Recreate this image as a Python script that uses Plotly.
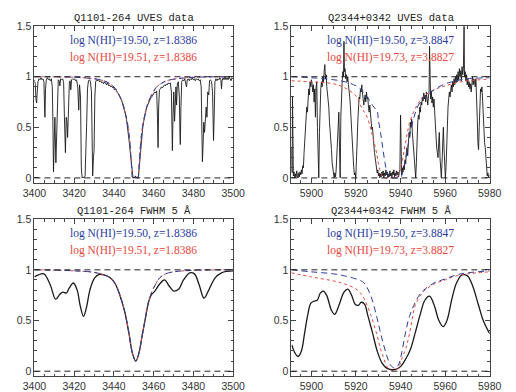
import plotly.graph_objects as go

# ---------------- data ----------------
# Panel A: Q1101-264 UVES data (wavelength, normalised flux)
a_wav = [3400.0,3400.4,3400.8,3401.1,3401.4,3401.8,3402.3,3402.8,3403.3,3403.8,3404.3,3404.8,3405.1,3405.3,3405.6,3406.0,3406.5,3407.0,3407.5,3408.0,
         3408.5,3409.0,3409.3,3409.6,3409.9,3410.3,3410.8,3411.2,3411.5,3412.0,3412.5,3412.8,3413.2,3413.7,3414.2,3414.7,3415.1,3415.6,3416.0,3416.4,
         3416.7,3417.1,3417.6,3418.0,3418.3,3418.7,3419.2,3419.7,3420.2,3420.7,3421.2,3421.8,3422.3,3422.7,3423.2,3423.6,3424.0,3424.5,3425.0,3425.5,
         3425.9,3426.3,3426.7,3427.2,3427.7,3428.2,3428.7,3429.0,3429.3,3429.7,3430.0,3430.4,3430.8,3431.3,3431.8,3432.3,3432.8,3433.3,3433.8,3434.3,
         3434.8,3435.3,3435.8,3436.3,3436.8,3437.3,3437.8,3438.3,3438.8,3439.3,3439.8,3440.3,3440.8,3441.3,3441.8,3442.3,3442.8,3443.3,3443.8,3444.3,
         3444.8,3445.3,3445.8,3446.3,3446.8,3447.3,3447.8,3448.3,3448.8,3449.2,3449.6,3450.0,3450.4,3450.8,3451.2,3451.6,3452.0,3452.4,3452.8,3453.2,
         3453.6,3454.0,3454.5,3455.0,3455.5,3456.0,3456.5,3457.0,3457.5,3458.0,3458.5,3459.0,3459.5,3460.0,3460.5,3461.0,3461.5,3461.9,3462.2,3462.5,
         3462.9,3463.4,3463.9,3464.4,3464.9,3465.4,3465.9,3466.4,3466.9,3467.4,3467.9,3468.4,3468.9,3469.2,3469.4,3469.7,3470.1,3470.5,3470.9,3471.2,
         3471.5,3471.9,3472.4,3472.9,3473.2,3473.4,3473.7,3474.1,3474.6,3475.1,3475.6,3476.1,3476.5,3476.9,3477.4,3477.9,3478.4,3478.9,3479.4,3479.9,
         3480.4,3480.9,3481.4,3481.9,3482.4,3482.9,3483.4,3483.9,3484.2,3484.5,3484.8,3485.2,3485.6,3486.0,3486.4,3486.8,3487.2,3487.7,3488.1,3488.6,
         3489.1,3489.6,3489.9,3490.1,3490.4,3490.8,3491.3,3491.8,3492.3,3492.8,3493.3,3493.8,3494.1,3494.4,3494.9,3495.4,3495.9,3496.4,3496.9,3497.4,
         3497.9,3498.4,3498.9,3499.4,3499.9]
a_flux = [0.97,0.93,0.78,0.74,0.84,0.95,0.98,0.97,0.99,0.97,0.98,0.95,0.70,0.60,0.88,0.97,0.99,0.97,0.98,0.96,
          0.98,0.90,0.55,0.06,0.30,0.60,0.15,0.45,0.85,0.97,0.96,0.91,0.98,0.97,0.98,0.94,0.60,0.25,0.60,0.55,
          0.40,0.75,0.95,0.96,0.87,0.97,0.98,0.97,0.98,0.96,0.97,0.90,0.67,0.92,0.80,0.10,0.00,0.01,0.00,0.02,
          0.23,0.55,0.88,0.96,0.97,0.95,0.85,0.30,0.02,0.20,0.27,0.80,0.95,0.97,0.96,0.97,0.95,0.96,0.94,0.95,
          0.93,0.95,0.93,0.92,0.94,0.91,0.92,0.90,0.91,0.89,0.90,0.87,0.88,0.85,0.84,0.83,0.80,0.79,0.77,0.74,
          0.71,0.68,0.63,0.58,0.51,0.44,0.34,0.24,0.12,0.03,0.00,0.01,0.00,0.02,0.00,0.01,0.00,0.03,0.12,0.24,
          0.34,0.42,0.50,0.56,0.62,0.65,0.70,0.72,0.75,0.77,0.79,0.80,0.82,0.83,0.85,0.84,0.86,0.60,0.30,0.70,
          0.87,0.88,0.90,0.89,0.91,0.92,0.91,0.93,0.92,0.94,0.93,0.94,0.85,0.50,0.27,0.60,0.85,0.56,0.80,0.90,
          0.72,0.93,0.95,0.80,0.45,0.33,0.70,0.95,0.97,0.96,0.98,0.94,0.90,0.97,0.98,0.96,0.98,0.97,0.99,0.97,
          0.98,0.96,0.98,0.97,0.98,0.96,0.97,0.90,0.40,0.16,0.30,0.55,0.45,0.62,0.70,0.60,0.85,0.82,0.96,0.97,
          0.95,0.85,0.50,0.37,0.60,0.95,0.98,0.96,0.98,0.97,0.99,0.97,0.88,0.96,0.99,0.97,1.00,0.97,0.99,0.97,
          1.00,0.98,0.96,0.99,0.98]

# Panel A / C model: log N(HI)=19.50 & 19.51, z=1.8386
a_mod_wav = [3400,3420,3430,3435,3438,3440,3442,3444,3445,3446,3447,3448,3448.5,3449,3449.5,
             3452,3452.5,3453,3453.5,3454.5,3455.5,3456.5,3457.5,3459.5,3461.5,3463.5,3466.5,3471.5,3481,3500]
a_mod_b = [1.0,0.995,0.98,0.96,0.93,0.90,0.84,0.76,0.70,0.62,0.52,0.36,0.22,0.08,0.0,
           0.0,0.08,0.22,0.36,0.52,0.62,0.70,0.76,0.84,0.90,0.93,0.96,0.98,0.995,1.0]
a_mod_r = [1.0,0.995,0.98,0.96,0.93,0.90,0.84,0.76,0.70,0.62,0.52,0.36,0.22,0.08,0.0,
           0.0,0.08,0.22,0.36,0.52,0.62,0.70,0.76,0.84,0.90,0.93,0.96,0.98,0.995,1.0]

# Panel B: Q2344+0342 UVES data
b_wav = [5891.0,5891.3,5891.5,5891.9,5892.2,5892.5,5892.8,5893.1,5893.4,5893.7,5894.0,5894.3,5894.6,5894.9,5895.2,5895.5,5895.8,5896.1,5896.4,5896.7,
         5897.0,5897.3,5897.6,5897.9,5898.2,5898.5,5898.8,5899.1,5899.4,5899.7,5900.0,5900.3,5900.6,5900.9,5901.2,5901.5,5901.8,5902.1,5902.4,5902.7,
         5903.0,5903.3,5903.6,5903.9,5904.2,5904.5,5904.8,5905.1,5905.4,5905.7,5906.0,5906.3,5906.6,5906.9,5907.2,5907.5,5907.8,5908.1,5908.4,5908.7,
         5909.0,5909.3,5909.6,5909.9,5910.2,5910.5,5910.8,5911.1,5911.4,5911.7,5912.0,5912.3,5912.6,5912.9,5913.2,5913.5,5913.8,5914.1,5914.4,5914.6,
         5914.8,5915.1,5915.4,5915.7,5916.0,5916.3,5916.6,5916.9,5917.2,5917.5,5917.8,5918.1,5918.4,5918.7,5919.0,5919.3,5919.6,5919.9,5920.2,5920.5,
         5920.8,5921.1,5921.4,5921.7,5922.0,5922.3,5922.6,5922.9,5923.2,5923.5,5923.8,5924.1,5924.4,5924.7,5925.0,5925.3,5925.6,5925.9,5926.2,5926.5,
         5926.8,5927.1,5927.4,5927.7,5928.0,5928.3,5928.6,5928.9,5929.2,5929.5,5929.8,5930.1,5930.4,5930.7,5931.0,5931.3,5931.6,5931.9,5932.2,5932.5,
         5932.8,5933.1,5933.4,5933.7,5934.0,5934.3,5934.6,5934.9,5935.2,5935.5,5935.8,5936.1,5936.4,5936.7,5937.0,5937.3,5937.6,5937.9,5938.2,5938.5,
         5938.8,5939.1,5939.4,5939.7,5940.0,5940.2,5940.5,5940.8,5941.1,5941.4,5941.7,5942.0,5942.3,5942.6,5942.9,5943.2,5943.5,5943.8,5944.1,5944.4,
         5944.7,5945.0,5945.3,5945.6,5945.9,5946.2,5946.5,5946.8,5947.1,5947.4,5947.7,5948.0,5948.3,5948.6,5948.9,5949.2,5949.5,5949.8,5950.1,5950.4,
         5950.7,5951.0,5951.3,5951.6,5951.9,5952.2,5952.5,5952.8,5953.0,5953.2,5953.5,5953.8,5954.1,5954.4,5954.7,5955.0,5955.3,5955.6,5955.9,5956.2,
         5956.5,5956.8,5957.1,5957.4,5957.7,5958.0,5958.3,5958.6,5958.9,5959.2,5959.5,5959.8,5960.1,5960.4,5960.7,5961.0,5961.3,5961.6,5961.9,5962.2,
         5962.5,5962.8,5963.1,5963.4,5963.7,5964.0,5964.3,5964.6,5964.9,5965.2,5965.5,5965.8,5966.1,5966.4,5966.7,5967.0,5967.3,5967.6,5967.9,5968.2,
         5968.5,5968.7,5969.0,5969.3,5969.6,5969.9,5970.2,5970.5,5970.8,5971.1,5971.4,5971.7,5972.0,5972.3,5972.6,5972.9,5973.2,5973.5,5973.8,5974.1,
         5974.4,5974.7,5975.0,5975.3,5975.6,5975.9,5976.2,5976.5,5976.8,5977.1,5977.4,5977.7,5978.0,5978.3,5978.6,5978.9,5979.2,5979.5,5979.8]
b_flux = [0.30,0.05,0.80,0.02,0.06,0.00,0.04,0.01,0.07,0.02,0.00,0.05,0.01,0.06,0.03,0.08,0.04,0.12,0.10,0.25,
          0.35,0.45,0.55,0.70,0.65,0.80,0.88,0.82,0.95,0.90,0.97,0.93,0.85,0.92,0.75,0.88,0.60,0.90,0.95,0.50,
          0.05,0.00,0.45,0.80,0.88,0.95,0.90,1.00,0.95,1.05,1.12,0.98,1.02,0.90,0.85,0.75,0.70,0.55,0.48,0.35,
          0.28,0.15,0.10,0.03,0.00,0.05,0.01,0.08,0.20,0.40,0.55,0.65,0.30,0.00,0.60,0.85,0.95,1.05,1.00,1.35,
          1.05,1.08,0.98,1.02,0.95,1.00,0.92,0.88,0.80,0.70,0.55,0.45,0.35,0.20,0.10,0.03,0.05,0.00,0.12,0.35,
          0.55,0.70,0.80,0.78,0.88,0.85,0.92,0.84,0.80,0.72,0.78,0.82,0.75,0.85,0.78,0.80,0.70,0.65,0.72,0.60,
          0.55,0.48,0.50,0.38,0.30,0.25,0.20,0.12,0.10,0.05,0.08,0.02,0.05,0.00,0.04,0.01,0.06,0.02,0.07,0.00,
          0.05,0.02,0.08,0.03,0.06,0.00,0.04,0.01,0.07,0.02,0.05,0.00,0.06,0.03,0.08,0.01,0.05,0.02,0.07,0.03,
          0.06,0.01,0.05,0.08,0.62,0.05,0.03,0.10,0.06,0.12,0.08,0.18,0.14,0.25,0.30,0.22,0.38,0.45,0.40,0.55,
          0.50,0.58,0.45,0.35,0.20,0.10,0.02,0.00,0.15,0.40,0.55,0.62,0.58,0.70,0.65,0.75,0.72,0.80,0.76,0.84,
          0.78,0.82,0.75,0.85,0.79,0.72,0.80,0.85,1.30,0.82,0.78,0.86,0.74,0.80,0.70,0.78,0.62,0.50,0.40,0.30,
          0.25,0.20,0.35,0.45,0.20,0.05,0.00,0.15,0.35,0.50,0.30,0.05,0.00,0.10,0.35,0.55,0.70,0.78,0.85,0.80,
          0.88,0.92,0.85,0.95,0.90,0.98,0.92,1.00,0.94,1.02,0.95,1.05,0.97,1.08,1.00,1.06,0.96,1.10,1.02,1.08,
          1.50,1.00,1.05,0.96,1.02,0.92,0.98,0.90,0.95,0.88,0.93,0.85,0.96,1.00,0.92,0.98,0.95,0.90,0.98,0.85,
          0.60,0.35,0.28,0.50,0.80,0.88,0.85,0.90,0.78,0.60,0.50,0.35,0.30,0.15,0.08,0.02,0.05,0.00,0.03]

# Panel B models
b_mod_wav = [5891,5900,5910,5915,5920,5922.4,5925,5928,5929.5,5930,5931,5932,5933,5934,5935,5937,
             5939,5940,5941,5942,5943,5944,5946,5948,5950,5955,5960,5965,5970,5980]
b_mod_b = [1.0,0.99,0.97,0.95,0.91,0.87,0.80,0.70,0.66,0.58,0.45,0.30,0.15,0.05,0.0,0.0,
           0.0,0.0,0.06,0.16,0.28,0.40,0.60,0.72,0.78,0.87,0.93,0.96,0.98,0.99]
b_mod_r = [0.96,0.95,0.93,0.89,0.81,0.70,0.60,0.36,0.22,0.15,0.06,0.01,0.0,0.0,0.0,0.0,
           0.02,0.10,0.20,0.32,0.44,0.54,0.66,0.74,0.80,0.87,0.91,0.94,0.96,0.975]

# Panel C: Q1101-264 smoothed to FWHM 5 A
c_wav = [3400,3402,3404.8,3408,3410.7,3412.8,3414.4,3416,3417.5,3419.6,3421.5,3423,3424.7,3426.3,3427.9,3430.3,3432.7,3435,
         3438.3,3440.7,3443,3445.5,3447.5,3449.4,3451,3452.6,3454.2,3455.8,3457.4,3458.7,3460.6,3463,3465.4,3467.8,3470.2,
         3472.6,3475,3478.1,3480.5,3482.9,3485.3,3487.7,3490.9,3494.1,3497,3500]
c_flux = [0.93,0.95,0.96,0.85,0.71,0.76,0.78,0.77,0.82,0.87,0.80,0.65,0.54,0.64,0.80,0.92,0.955,0.95,
          0.92,0.86,0.75,0.58,0.38,0.17,0.10,0.18,0.35,0.52,0.68,0.75,0.79,0.86,0.90,0.84,0.79,
          0.81,0.90,0.97,0.96,0.85,0.72,0.80,0.92,0.97,0.985,0.99]
c_mod_wav = [3400,3420,3430,3435,3438.3,3440.7,3443,3445.5,3447.5,3449.4,3451,3452.6,3454.2,3455.8,3457.4,
             3459,3461,3463,3466,3470,3480,3500]
c_mod_b = [1.0,0.99,0.975,0.95,0.92,0.86,0.75,0.58,0.38,0.17,0.10,0.18,0.35,0.52,0.68,
           0.78,0.86,0.92,0.96,0.98,0.995,1.0]
c_mod_r = [1.0,0.99,0.975,0.95,0.92,0.86,0.75,0.58,0.38,0.17,0.10,0.18,0.35,0.52,0.68,
           0.78,0.86,0.92,0.96,0.98,0.995,1.0]

# Panel D: Q2344+0342 smoothed to FWHM 5 A
d_wav = [5891.2,5892.6,5894,5895.5,5896.9,5898.3,5899.7,5901.1,5902.6,5904,5905.4,5906.8,5909,5910.4,5912.2,5914.6,
         5916.3,5918.2,5919.6,5921,5922.4,5923.9,5925.3,5927.4,5929.5,5931.7,5933.8,5935.9,5938.1,5940.2,5942.3,5944.5,
         5946.6,5948.7,5950.9,5953,5955.1,5957.2,5959.1,5960.8,5962.9,5965.1,5967.6,5970,5972.2,5975,5977.1,5980]
d_flux = [0.26,0.18,0.145,0.2,0.37,0.55,0.67,0.69,0.70,0.77,0.79,0.75,0.60,0.56,0.64,0.78,
          0.81,0.74,0.66,0.65,0.68,0.66,0.55,0.38,0.20,0.08,0.03,0.015,0.02,0.05,0.12,0.22,
          0.38,0.55,0.70,0.74,0.65,0.50,0.44,0.50,0.70,0.87,0.95,0.94,0.85,0.65,0.50,0.37]
d_mod_wav = [5891,5900,5910,5915,5920,5922.4,5924,5926.7,5929.5,5931,5932.4,5934,5935.5,5937.4,5939,5940.5,
             5942.3,5944,5946.6,5949,5951,5955,5960,5965,5970,5980]
d_mod_b = [1.0,0.98,0.96,0.94,0.91,0.89,0.86,0.74,0.52,0.38,0.26,0.14,0.06,0.03,0.06,0.18,
           0.39,0.54,0.68,0.77,0.81,0.87,0.91,0.95,0.97,0.99]
d_mod_r = [0.97,0.93,0.89,0.86,0.81,0.76,0.70,0.55,0.35,0.22,0.13,0.04,0.01,0.01,0.03,0.12,
           0.22,0.37,0.65,0.75,0.80,0.86,0.90,0.94,0.96,0.98]

titles = ["Q1101-264 UVES data", "Q2344+0342 UVES data", "Q1101-264 FWHM 5 Å", "Q2344+0342 FWHM 5 Å"]
labels_blue = ["log N(HI)=19.50, z=1.8386", "log N(HI)=19.50, z=3.8847",
               "log N(HI)=19.50, z=1.8386", "log N(HI)=19.50, z=3.8847"]
labels_red = ["log N(HI)=19.51, z=1.8386", "log N(HI)=19.73, z=3.8827",
              "log N(HI)=19.51, z=1.8386", "log N(HI)=19.73, z=3.8827"]
x_ranges = [[3400, 3500], [5891, 5980], [3400, 3500], [5891, 5980]]
x_ticks = [[3400, 3420, 3440, 3460, 3480, 3500], [5900, 5920, 5940, 5960, 5980],
           [3400, 3420, 3440, 3460, 3480, 3500], [5900, 5920, 5940, 5960, 5980]]
y_ticks = [0, 0.5, 1, 1.5]

# ---------------- figure ----------------
W, H = 516, 392
BLUE = "#2b3c9e"
RED = "#e8463c"

panels = [
    (a_wav, a_flux, a_mod_wav, a_mod_b, a_mod_wav, a_mod_r, 0.9),
    (b_wav, b_flux, b_mod_wav, b_mod_b, b_mod_wav, b_mod_r, 0.9),
    (c_wav, c_flux, c_mod_wav, c_mod_b, c_mod_wav, c_mod_r, 1.3),
    (d_wav, d_flux, d_mod_wav, d_mod_b, d_mod_wav, d_mod_r, 1.3),
]
# pixel boxes: (left, right, top, bottom)
boxes = [(23.5, 232, 20.5, 180.2), (293, 501, 20.5, 180.2),
         (23.5, 232, 217, 377), (293, 501, 217, 377)]

fig = go.Figure()
layout = dict(width=W, height=H, margin=dict(l=0, r=0, t=0, b=0),
              paper_bgcolor="white", plot_bgcolor="white", showlegend=False)
shapes = []
annotations = []
for i, (xw, yf, xmb, ymb, xmr, ymr, lw) in enumerate(panels):
    n = "" if i == 0 else str(i + 1)
    xa, ya = "x" + n, "y" + n
    smooth = "spline" if i >= 2 else "linear"
    fig.add_trace(go.Scatter(x=xw, y=yf, mode="lines", xaxis=xa, yaxis=ya,
                             line=dict(color="#1a1a1a", width=lw, shape=smooth)))
    fig.add_trace(go.Scatter(x=xmr, y=ymr, mode="lines", xaxis=xa, yaxis=ya,
                             line=dict(color=RED, width=1, dash="dot", shape="spline")))
    fig.add_trace(go.Scatter(x=xmb, y=ymb, mode="lines", xaxis=xa, yaxis=ya,
                             line=dict(color=BLUE, width=1, dash="6px,4px", shape="spline")))
    l, r, t, b = boxes[i]
    common = dict(showline=True, linecolor="#444", linewidth=1, mirror="allticks",
                  ticks="inside", ticklen=5, tickcolor="#444", showgrid=False, zeroline=False,
                  tickfont=dict(family="Liberation Sans", size=10.5, color="#333"))
    layout["xaxis" + n] = dict(common, domain=[l / W, r / W], range=x_ranges[i], anchor=ya,
                               tickvals=x_ticks[i],
                               minor=dict(dtick=5, ticks="inside", ticklen=2.5, tickcolor="#444"))
    layout["yaxis" + n] = dict(common, domain=[1 - b / H, 1 - t / H], range=[-0.05, 1.5], anchor=xa,
                               tickvals=y_ticks,
                               minor=dict(dtick=0.1, ticks="inside", ticklen=2.5, tickcolor="#444"))
    for yv in (0, 1):
        shapes.append(dict(type="line", xref=xa + " domain", yref=ya, x0=0, x1=1, y0=yv, y1=yv,
                           line=dict(color="#222", width=1, dash="6px,4px")))
    cx = (l + r) / 2 / W
    annotations.append(dict(text=titles[i], xref="paper", yref="paper", x=cx, y=1 - (t - 8.5) / H,
                            showarrow=False, xanchor="center", yanchor="middle",
                            font=dict(family="Liberation Mono", size=10.5, color="#222")))
    annotations.append(dict(text=labels_blue[i], xref="paper", yref="paper", x=cx, y=1 - (t + 15) / H,
                            showarrow=False, xanchor="center", yanchor="middle",
                            font=dict(family="Liberation Serif", size=11.5, color=BLUE)))
    annotations.append(dict(text=labels_red[i], xref="paper", yref="paper", x=cx, y=1 - (t + 31.5) / H,
                            showarrow=False, xanchor="center", yanchor="middle",
                            font=dict(family="Liberation Serif", size=11.5, color=RED)))

layout["shapes"] = shapes
layout["annotations"] = annotations
fig.update_layout(**layout)
fig.write_html("out.html")
